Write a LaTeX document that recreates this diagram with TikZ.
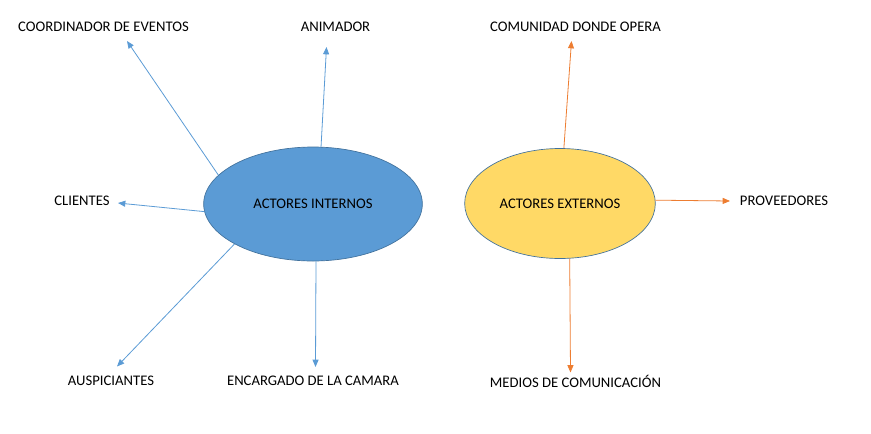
\documentclass[tikz,border=0pt]{standalone}
\usepackage{fontspec}
\setmainfont{Carlito}
\usepackage{tikz}
\usetikzlibrary{shapes.geometric,arrows.meta,positioning}
\definecolor{intblue}{HTML}{5B9BD5}
\definecolor{extgold}{HTML}{FFD966}
\definecolor{rimblue}{HTML}{41719C}
\definecolor{extorange}{HTML}{ED7D31}
\tikzset{line/.style={draw, -{Triangle[length=5.5pt,width=4.5pt]}, line width=.6pt}}

\begin{document}
\begin{tikzpicture}[
    x=0.75pt, y=-0.75pt,
    font=\fontsize{11}{13}\selectfont,
    actor/.style={
      draw=rimblue,
      ellipse,
      line width=.5pt,
      inner sep=0pt,
      align=center
    },
    role/.style={
      inner sep=0pt,
      anchor=center
    },
    intline/.style={line, draw=intblue},
    extline/.style={line, draw=extorange}
  ]

  \useasboundingbox (0,0) rectangle (871,433);

  \node[actor,fill=intblue,minimum width=164pt,minimum height=85.5pt] (int) at (313,204) {ACTORES INTERNOS};
  \node[actor,fill=extgold,minimum width=143pt,minimum height=82.5pt] (ext) at (560,203.5) {ACTORES EXTERNOS};

  % actores internos
  \node[role] (coord) at (103.5,27) {COORDINADOR DE EVENTOS};
  \node[role] (anim) at (335.5,27) {ANIMADOR};
  \node[role] (cli) at (82,201) {CLIENTES};
  \node[role] (ausp) at (111,381) {AUSPICIANTES};
  \node[role] (cam) at (313,381) {ENCARGADO DE LA CAMARA};

  % actores externos
  \node[role] (comu) at (575.5,27) {COMUNIDAD DONDE OPERA};
  \node[role] (prov) at (784,201) {PROVEEDORES};
  \node[role] (medios) at (575.5,381) {MEDIOS DE COMUNICACIÓN};

  \coordinate (coordtip) at (127,41);
  \coordinate (animtip) at (326.5,47);
  \coordinate (clitip) at (118,203);
  \coordinate (ausptip) at (117,366.5);
  \coordinate (camtip) at (315.5,367);
  \coordinate (comutip) at (571.5,41);
  \coordinate (provtip) at (730,201);
  \coordinate (mediostip) at (570.5,372.5);

  \draw[intline] (int.163) -- (coordtip);
  \draw[intline] (int.82) -- (animtip);
  \draw[intline] (int.184) -- (clitip);
  \draw[intline] (int.207) -- (ausptip);
  \draw[intline] (int.273) -- (camtip);

  \draw[extline] (ext.86) -- (comutip);
  \draw[extline] (ext.2) -- (provtip);
  \draw[extline] (ext.280) -- (mediostip);

\end{tikzpicture}
\end{document}
